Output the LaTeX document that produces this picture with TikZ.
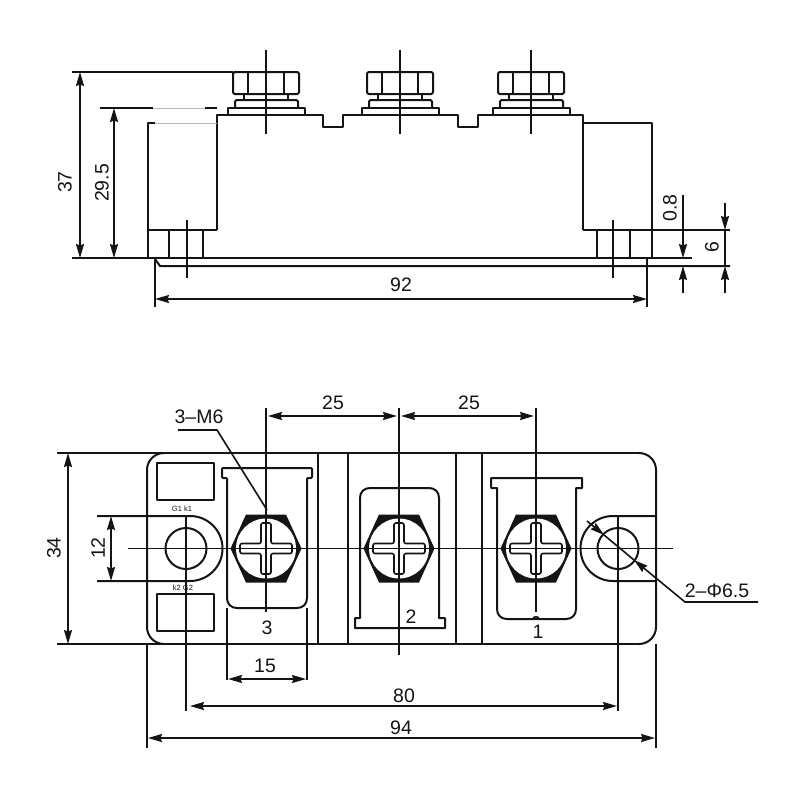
\documentclass[tikz,border=0pt]{standalone}
\usepackage{fontspec}
\setmainfont{Liberation Sans}
\usetikzlibrary{arrows.meta}
\definecolor{ink}{HTML}{141414}
\tikzset{
  x=1pt,y=-1pt,
  outline/.style={draw=ink,line width=2pt,line join=round},
  thin line/.style={draw=ink,line width=1.6pt},
  faint/.style={draw=ink!30,line width=1pt},
  dimtip/.tip={Stealth[length=14pt,width=8pt,inset=1.5pt]},
  dim both/.style={thin line,{dimtip}-{dimtip}},
  dim end/.style={thin line,-{dimtip}},
  lbl/.style={text=ink,font=\fontsize{19.5}{19.5}\selectfont,inner sep=0pt},
  tiny lbl/.style={text=ink,font=\fontsize{7.5}{7.5}\selectfont,inner sep=0pt}
}
\newcommand{\screwhead}[1]{%
  \fill[ink] (#1-35.5,548.5) -- (#1-20,514.5) -- (#1+20,514.5) -- (#1+35.5,548.5) -- (#1+20,582.5) -- (#1-20,582.5) -- cycle;
  \fill[white] (#1,548.5) circle[radius=30pt];
  \draw[thin line,fill=white,rounded corners=2pt] (#1-5,523) -- (#1+5,523) -- (#1+5,543.5) -- (#1+26,543.5) -- (#1+26,553.5) -- (#1+5,553.5) -- (#1+5,574) -- (#1-5,574) -- (#1-5,553.5) -- (#1-26,553.5) -- (#1-26,543.5) -- (#1-5,543.5) -- cycle;
}
\begin{document}
\begin{tikzpicture}
\useasboundingbox (0,0) rectangle (800,800);
\fill[white] (0,0) rectangle (800,800);

% ---------- side view ----------
\foreach \c in {266,400,531}{
  \draw[outline,rounded corners=1.5pt] (\c-33,72) rectangle (\c+33,94);
  \draw[outline] (\c-18,72) -- (\c-18,94) (\c+18,72) -- (\c+18,94);
  \draw[outline] (\c-22,94) -- (\c-22,100) (\c+22,94) -- (\c+22,100);
  \draw[outline,rounded corners=1.5pt] (\c-31,108) -- (\c-31,100) -- (\c+32,100) -- (\c+32,108);
  \draw[outline] (\c-38,115) -- (\c-38,108) -- (\c+39,108) -- (\c+39,115);
  \draw[thin line] (\c,50) -- (\c,134);
}
\draw[outline] (217,230) -- (217,115) -- (323,115) -- (323,127) -- (343,127) -- (343,115)
  -- (458,115) -- (458,127) -- (478,127) -- (478,115) -- (583,115) -- (583,230);
\draw[outline] (155,123) -- (148,123) -- (148,258);
\draw[faint] (155,123) -- (217,123);
\draw[outline] (583,123) -- (652,123) -- (652,258);
\draw[outline] (148,230) -- (217,230);
\draw[outline] (583,230) -- (730,230);
\draw[outline] (169,230) -- (169,258) (203,230) -- (203,258);
\draw[outline] (597,230) -- (597,258) (630,230) -- (630,258);
\draw[thin line] (187,220) -- (187,278);
\draw[thin line] (613,220) -- (613,278);
\draw[outline] (72,258) -- (692,258);
\draw[outline] (155,259) -- (160,266) -- (730,266);
\draw[outline] (72,72) -- (233,72);
\draw[outline] (100,108) -- (153,108) (205,108) -- (217,108);
\draw[faint] (153,108) -- (205,108);
\draw[thin line] (155,258) -- (155,307);
\draw[thin line] (647,258) -- (647,307);

\draw[dim both] (80,72) -- (80,258);
\draw[dim both] (114,108) -- (114,258);
\draw[dim both] (155,299) -- (647,299);
\draw[dim end] (683,195) -- (683,258);
\draw[dim end] (683,293) -- (683,266);
\draw[dim end] (725,203) -- (725,230);
\draw[thin line] (725,230) -- (725,266);
\draw[dim end] (725,293) -- (725,266);

\node[lbl,rotate=90] (d37) at (65,182) {37};
\node[lbl,rotate=90] (d295) at (102,183) {29.5};
\node[lbl] (d92) at (401,285) {92};
\node[lbl,rotate=90] (d08) at (670,208) {0.8};
\node[lbl,rotate=90] (d6) at (712,247) {6};

% ---------- top view ----------
\draw[outline] (57,453) -- (639,453);
\draw[outline] (57,644) -- (639,644);
\draw[outline,rounded corners=17pt] (164,453) -- (147,453) -- (147,644) -- (164,644);
\draw[outline,rounded corners=17pt] (639,453) -- (656,453) -- (656,644) -- (639,644);
\draw[outline] (318,453) -- (318,644);
\draw[outline] (348,453) -- (348,644);
\draw[outline] (456,453) -- (456,644);
\draw[outline] (482,453) -- (482,644);

\draw[outline] (157,463) rectangle (214,500);
\draw[outline] (157,594) rectangle (214,631);
\node[tiny lbl] (g1) at (182,509) {G1 k1};
\node[tiny lbl] (k2) at (183,588) {k2 G2};

% terminals
\draw[outline,rounded corners=1pt] (222,468) -- (312,468) -- (312,478) -- (307,478);
\draw[outline,rounded corners=1pt] (227,478) -- (222,478) -- (222,468);
\draw[outline] (227,478) -- (227,598) .. controls (227,604) and (231,608) .. (237,608) -- (297,608) .. controls (303,608) and (307,604) .. (307,598) -- (307,478);
\draw[outline] (360,618) -- (360,498) .. controls (360,492) and (364,488) .. (370,488) -- (429,488) .. controls (435,488) and (439,492) .. (439,498) -- (439,618) -- (445,618) -- (445,628) -- (355,628) -- (355,618) -- cycle;
\draw[outline] (491,478) -- (582,478) -- (582,488) -- (576,488) -- (576,609) .. controls (576,615) and (572,619) .. (566,619) -- (507,619) .. controls (501,619) and (497,615) .. (497,609) -- (497,488) -- (491,488) -- cycle;
\draw[thin line] (533,619) .. controls (533,616) and (539,616) .. (539,619);

\screwhead{266}
\screwhead{399}
\screwhead{536}

% lugs and holes
\draw[outline] (97,516) -- (190,516) .. controls (208,516) and (222.5,530.5) .. (222.5,548.5) .. controls (222.5,566.5) and (208,581) .. (190,581) -- (97,581);
\draw[outline] (656,516) -- (613,516) .. controls (595,516) and (580.5,530.5) .. (580.5,548.5) .. controls (580.5,566.5) and (595,581) .. (613,581) -- (656,581);
\draw[outline] (186,548.5) circle[radius=20.5pt];
\draw[outline] (618,548.5) circle[radius=20.5pt];

% centre lines
\draw[thin line] (128,548.5) -- (673,548.5);
\draw[thin line] (266,408) -- (266,612);
\draw[thin line] (399,408) -- (399,655);
\draw[thin line] (536,408) -- (536,612);
\draw[thin line] (186,516) -- (186,711);
\draw[thin line] (618,516) -- (618,711);
\draw[thin line] (147,644) -- (147,748);
\draw[thin line] (656,644) -- (656,748);
\draw[thin line] (227,608) -- (227,680);
\draw[thin line] (307,608) -- (307,680);

% dimensions
\draw[dim both] (68,453) -- (68,644);
\draw[dim both] (111,516) -- (111,581);
\draw[dim both] (268,416) -- (397,416);
\draw[dim both] (401,416) -- (534,416);
\draw[dim both] (228,679) -- (306,679);
\draw[dim both] (190,706) -- (617,706);
\draw[dim both] (148,738) -- (655,738);

% leaders
\draw[thin line,-{dimtip}] (587,521) -- (604,535);
\draw[thin line] (604,535) -- (634,560);
\draw[thin line,{dimtip}-] (634,560) -- (685,602) -- (758,602);
\draw[thin line] (178,430) -- (217,430) -- (267,510);

\node[lbl,rotate=90] (n34) at (54,548) {34};
\node[lbl,rotate=90] (n12) at (98,548) {12};
\node[lbl] (n25a) at (333,403) {25};
\node[lbl] (n25b) at (469,403) {25};
\node[lbl] (n3m6) at (199,417) {3--M6};
\node[lbl] (n15) at (265,666) {15};
\node[lbl] (n80) at (404,696) {80};
\node[lbl] (n94) at (401,728) {94};
\node[lbl] (n3) at (267,628) {3};
\node[lbl] (n2) at (411,617) {2};
\node[lbl] (n1) at (538,632) {1};
\node[lbl] (n2p) at (717,591) {2--Φ6.5};
\end{tikzpicture}
\end{document}
